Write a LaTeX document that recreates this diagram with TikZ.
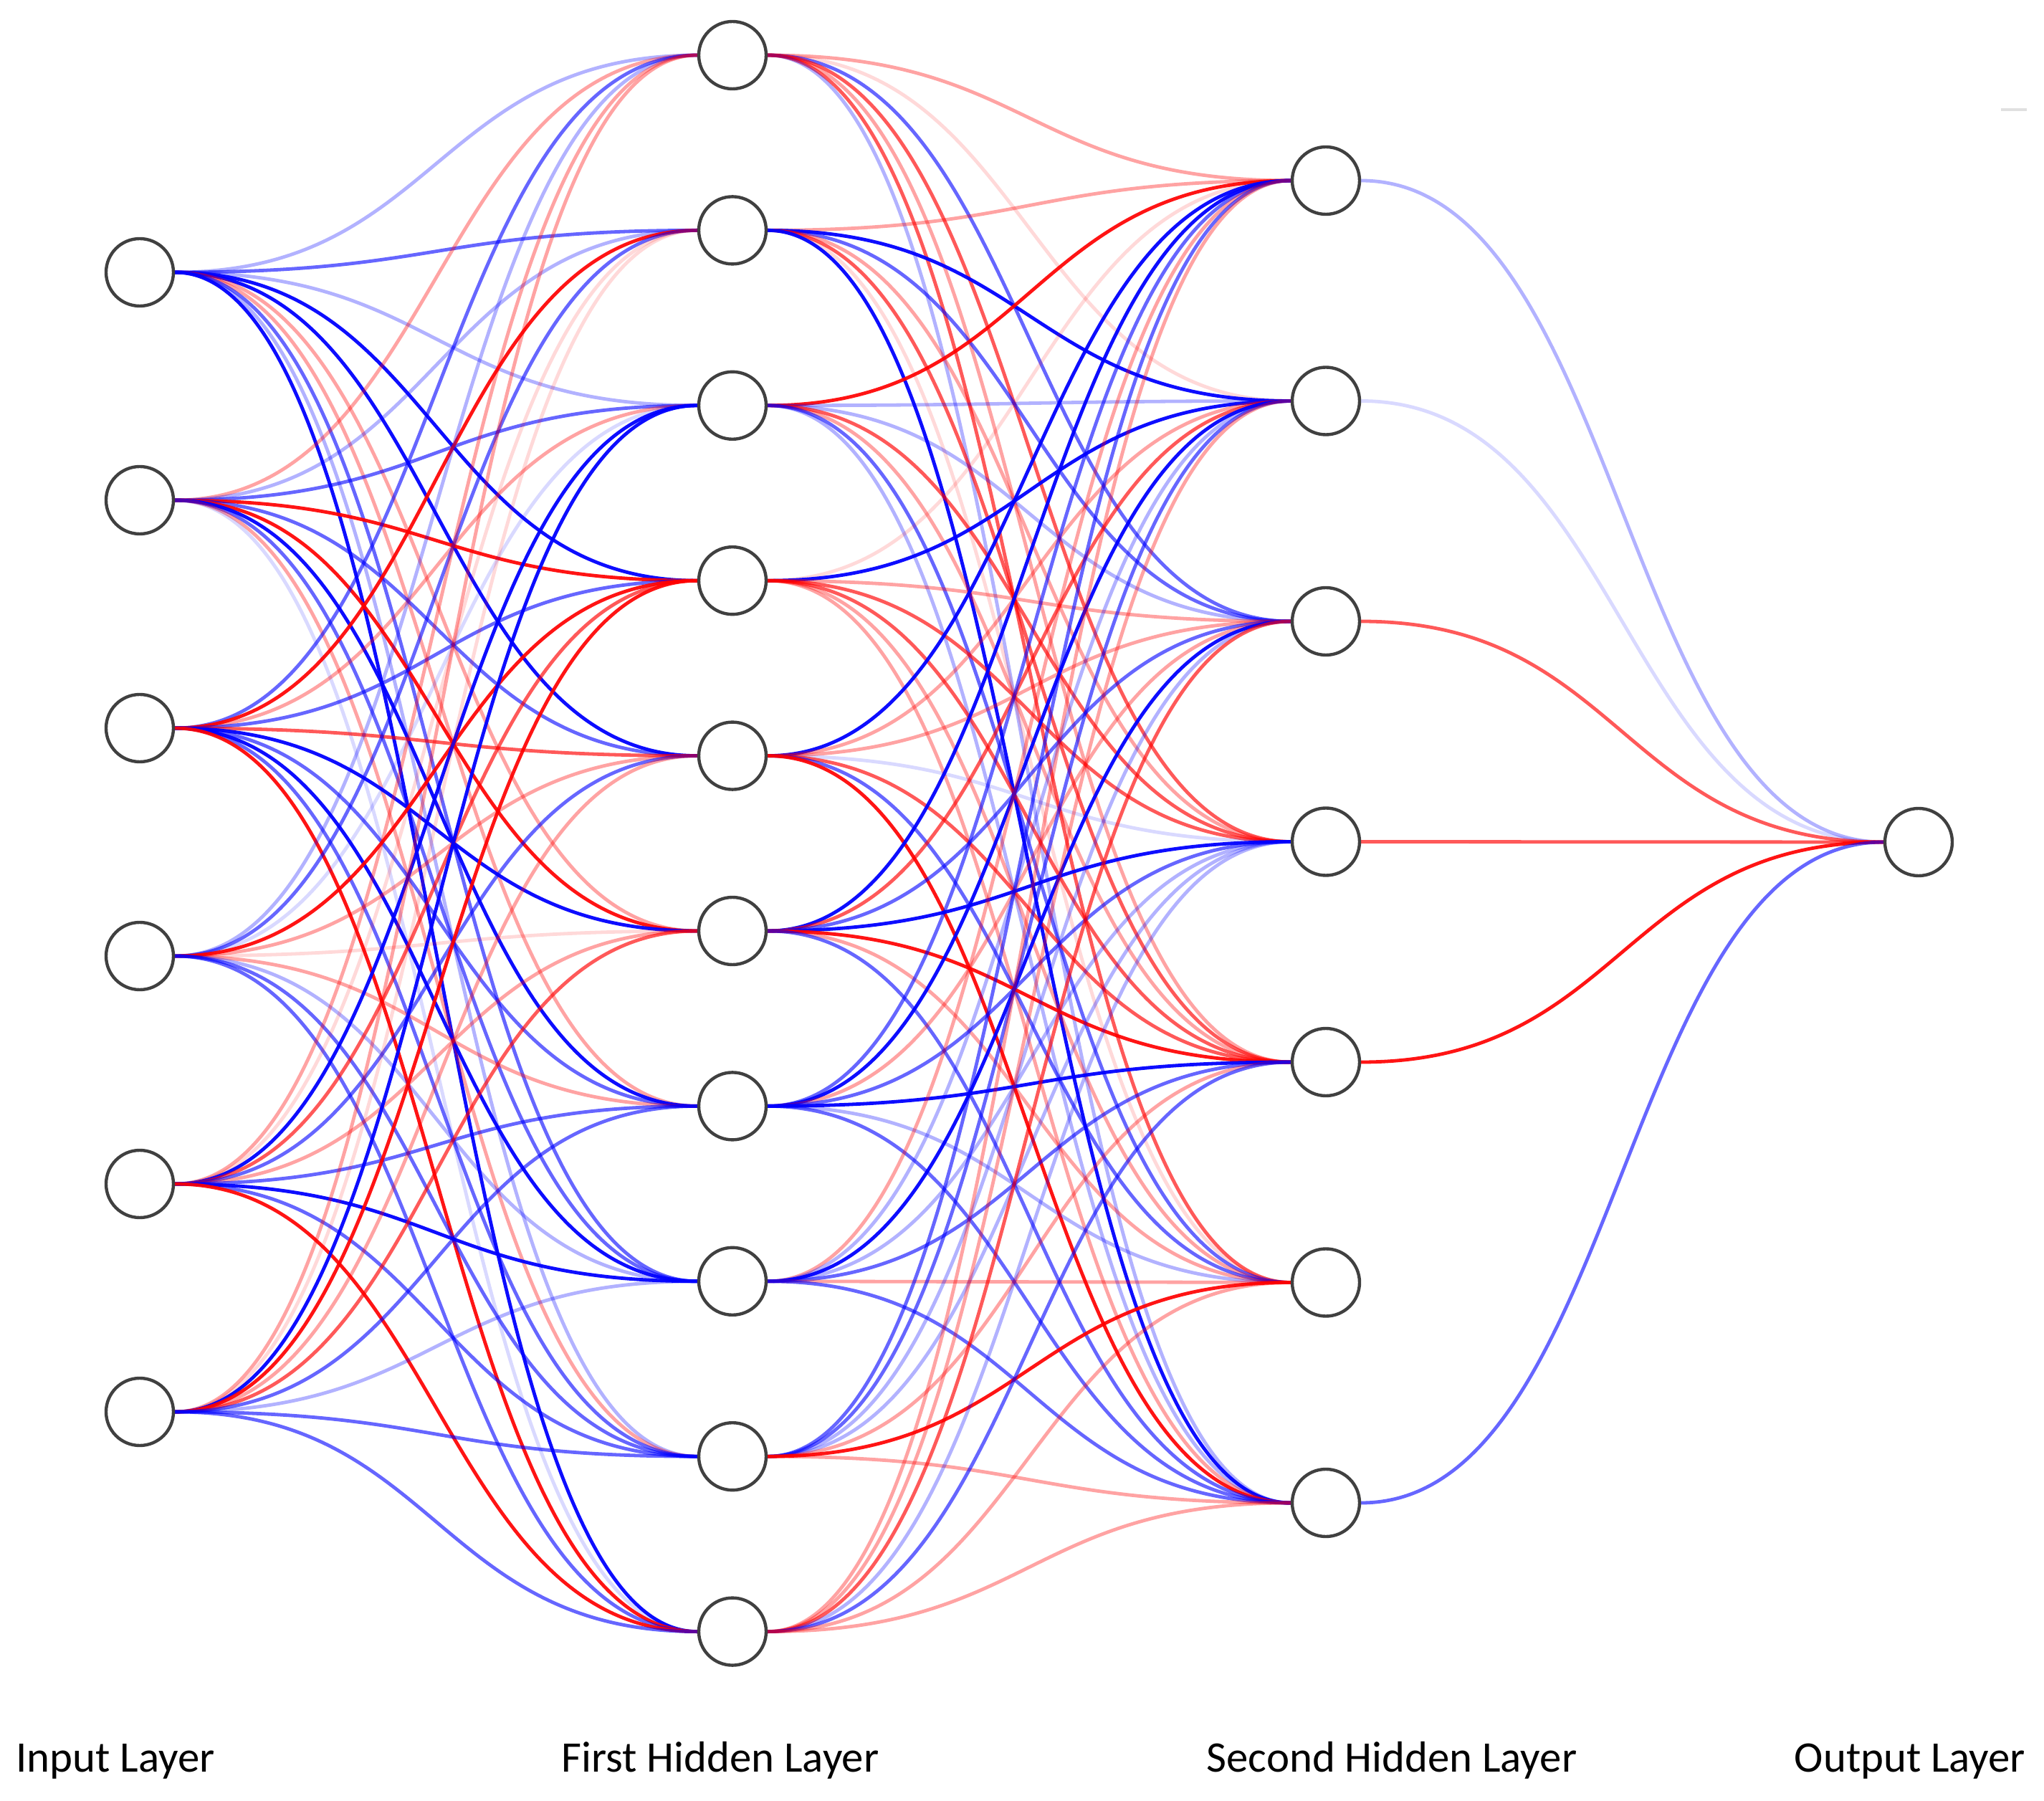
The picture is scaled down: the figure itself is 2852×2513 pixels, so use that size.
\documentclass[tikz,border=0pt]{standalone}
\usepackage{fontspec}
\setmainfont{Carlito}
\usetikzlibrary{calc}
\pgfdeclarelayer{edges}
\pgfsetlayers{edges,main}
\tikzset{
  edge/.style={line width=1.2pt},
  bD/.style={edge, draw=blue, draw opacity=0.95},
  bM/.style={edge, draw=blue, draw opacity=0.6},
  bL/.style={edge, draw=blue, draw opacity=0.3},
  bV/.style={edge, draw=blue, draw opacity=0.15},
  rS/.style={edge, draw=red, draw opacity=0.92},
  rM/.style={edge, draw=red, draw opacity=0.65},
  rL/.style={edge, draw=red, draw opacity=0.36},
  rV/.style={edge, draw=red, draw opacity=0.15},
  neuron/.style={circle, draw=black!75, line width=1.1pt, fill=white, minimum size=23.5pt, inner sep=0pt},
  lbl/.style={font=\fontsize{15.2}{18}\selectfont, anchor=base, inner sep=0pt},
}
\begin{document}
\begin{tikzpicture}[x=0.25pt, y=-0.25pt]
\useasboundingbox (0,0) rectangle (2852,2513);
% nodes
\foreach \k in {1,...,6} \node[neuron] (i\k) at (195,{380+318*(\k-1)}) {};
\foreach \k in {1,...,10} \node[neuron] (h\k) at (1022,{77+244.4*(\k-1)}) {};
\foreach \k in {1,...,7} \node[neuron] (g\k) at (1850,{252+307.5*(\k-1)}) {};
\node[neuron] (o1) at (2677,1175) {};
% labels
\node[lbl] (l1) at (161,2472) {Input Layer};
\node[lbl] (l2) at (1005,2472) {First Hidden Layer};
\node[lbl] (l3) at (1942,2472) {Second Hidden Layer};
\node[lbl] (l4) at (2665,2472) {Output Layer};
\begin{pgfonlayer}{edges}
\fill[white] (0,0) rectangle (2852,2513);
\draw[black!12, line width=0.8pt] (2792,153) -- (2828,153);
% input -> first hidden
\foreach \s/\t/\c in {
 1/1/bL,1/2/bM,1/3/bL,1/4/bD,1/5/bD,1/6/rL,1/7/rL,1/8/bM,1/9/bL,1/10/bD,
 2/1/rL,2/2/bL,2/3/bM,2/4/rS,2/5/bM,2/6/rS,2/7/bD,2/8/bM,2/9/rL,2/10/bV,
 3/1/bM,3/2/rS,3/3/rL,3/4/bM,3/5/rM,3/6/bD,3/7/bM,3/8/bD,3/9/bM,3/10/rS,
 4/1/bL,4/2/bM,4/3/bV,4/4/rS,4/5/rL,4/6/rV,4/7/rL,4/8/bL,4/9/bM,4/10/bM,
 5/1/rL,5/2/rV,5/3/bD,5/4/rM,5/5/bM,5/6/rL,5/7/bM,5/8/bD,5/9/bM,5/10/rS,
 6/1/rL,6/2/rV,6/3/bD,6/4/rS,6/5/rL,6/6/rM,6/7/bM,6/8/bL,6/9/bM,6/10/bM}
{
 \draw[\c] let \p1=(i\s.east), \p2=(h\t.west) in
   (\p1) .. controls ({(\x1+\x2)/2},\y1) and ({(\x1+\x2)/2},\y2) .. (\p2);
}
% first hidden -> second hidden
\foreach \s/\t/\c in {
 1/1/rL,1/2/rV,1/3/bM,1/4/rM,1/5/rL,1/6/rM,1/7/bL,
 2/1/rL,2/2/bD,2/3/bM,2/4/rL,2/5/rM,2/6/rV,2/7/bD,
 3/1/rS,3/2/bL,3/3/bL,3/4/rM,3/5/rL,3/6/bM,3/7/bL,
 4/1/rV,4/2/bD,4/3/rL,4/4/rM,4/5/rM,4/6/rL,4/7/rL,
 5/1/bD,5/2/rL,5/3/rL,5/4/bV,5/5/rM,5/6/bM,5/7/rS,
 6/1/bD,6/2/rM,6/3/bM,6/4/bD,6/5/rS,6/6/rL,6/7/bM,
 7/1/bM,7/2/bD,7/3/rL,7/4/bM,7/5/bD,7/6/bL,7/7/bM,
 8/1/rL,8/2/bL,8/3/bD,8/4/bL,8/5/bM,8/6/rL,8/7/bM,
 9/1/bM,9/2/bM,9/3/bL,9/4/bL,9/5/rL,9/6/rS,9/7/rL,
 10/1/rL,10/2/rL,10/3/rM,10/4/bL,10/5/bM,10/6/rL,10/7/rL}
{
 \draw[\c] let \p1=(h\s.east), \p2=(g\t.west) in
   (\p1) .. controls ({(\x1+\x2)/2},\y1) and ({(\x1+\x2)/2},\y2) .. (\p2);
}
% second hidden -> output
\foreach \s/\c in {1/bL,2/bV,3/rM,4/rM,5/rS,7/bM}
{
 \draw[\c] let \p1=(g\s.east), \p2=(o1.west) in
   (\p1) .. controls ({(\x1+\x2)/2},\y1) and ({(\x1+\x2)/2},\y2) .. (\p2);
}
\end{pgfonlayer}
\end{tikzpicture}
\end{document}
